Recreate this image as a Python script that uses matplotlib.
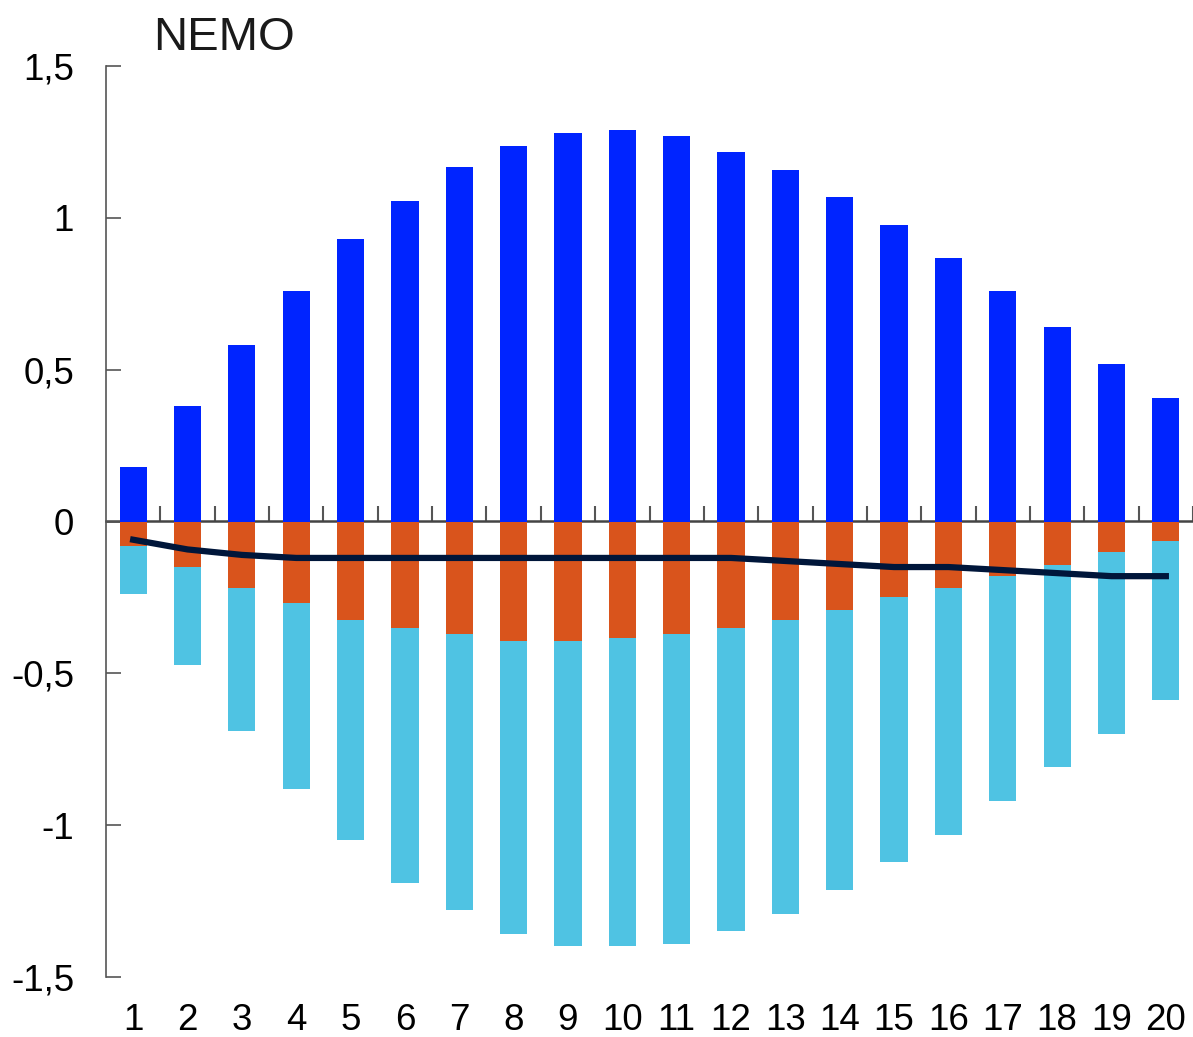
import numpy as np
import matplotlib.pyplot as plt

plt.rcParams['font.family'] = ['Liberation Sans', 'DejaVu Sans']

horizons = list(range(1, 21))
blue = [0.178, 0.379, 0.58, 0.76, 0.93, 1.057, 1.169, 1.238, 1.281, 1.29,
        1.271, 1.218, 1.159, 1.067, 0.978, 0.869, 0.76, 0.639, 0.52, 0.408]
orange = [-0.082, -0.151, -0.22, -0.27, -0.323, -0.352, -0.372, -0.392, -0.392, -0.382,
          -0.372, -0.352, -0.323, -0.29, -0.25, -0.22, -0.181, -0.142, -0.102, -0.063]
light_bottom = [-0.24, -0.471, -0.691, -0.882, -1.05, -1.192, -1.281, -1.36, -1.399, -1.399,
                -1.39, -1.35, -1.291, -1.212, -1.12, -1.031, -0.919, -0.81, -0.701, -0.589]
total = [-0.06, -0.092, -0.11, -0.12, -0.12, -0.12, -0.12, -0.12, -0.12, -0.12,
         -0.12, -0.12, -0.13, -0.14, -0.15, -0.15, -0.16, -0.17, -0.18, -0.18]
yticks = [-1.5, -1, -0.5, 0, 0.5, 1, 1.5]
ylabels = ['-1,5', '-1', '-0,5', '0', '0,5', '1', '1,5']

light = np.array(light_bottom) - np.array(orange)

fig = plt.figure(figsize=(11.93, 10.37), dpi=100)
ax = fig.add_axes([106 / 1193, 1 - 977 / 1037, 1 - 106 / 1193, (977 - 66) / 1037])

ax.bar(horizons, blue, width=0.5, color='#0024FF', zorder=2)
ax.bar(horizons, orange, width=0.5, color='#D9541C', zorder=2)
ax.bar(horizons, light, width=0.5, bottom=orange, color='#4FC3E3', zorder=2)
ax.plot(horizons, total, color='#00163A', lw=4.5, zorder=4)

ax.set_xlim(0.5, 20.5)
ax.set_ylim(-1.5, 1.5)
ax.set_yticks(yticks)
ax.set_yticklabels(ylabels)
ax.set_xticks(horizons)
ax.tick_params(axis='x', length=0, pad=19, labelsize=26.5)
ax.tick_params(axis='y', direction='in', length=11, width=1.2, color='#555555',
               pad=23, labelsize=26.5)

for side in ['top', 'right', 'bottom']:
    ax.spines[side].set_visible(False)
ax.spines['left'].set_color('#555555')
ax.spines['left'].set_linewidth(1.2)

# zero line with ticks between the categories
sec = ax.secondary_xaxis(0.5)
sec.set_xticks(np.arange(1.5, 21, 1))
sec.set_xticklabels([])
sec.tick_params(direction='out', length=11, width=1.5, color='#555555',
                labeltop=False, labelbottom=False)
for side in sec.spines:
    sec.spines[side].set_color('#444444')
    sec.spines[side].set_linewidth(1.8)

fig.text(153 / 1193, 1 - 50 / 1037, 'NEMO', fontsize=34, color='#1a1a1a')

fig.savefig('out.png', dpi=100)
